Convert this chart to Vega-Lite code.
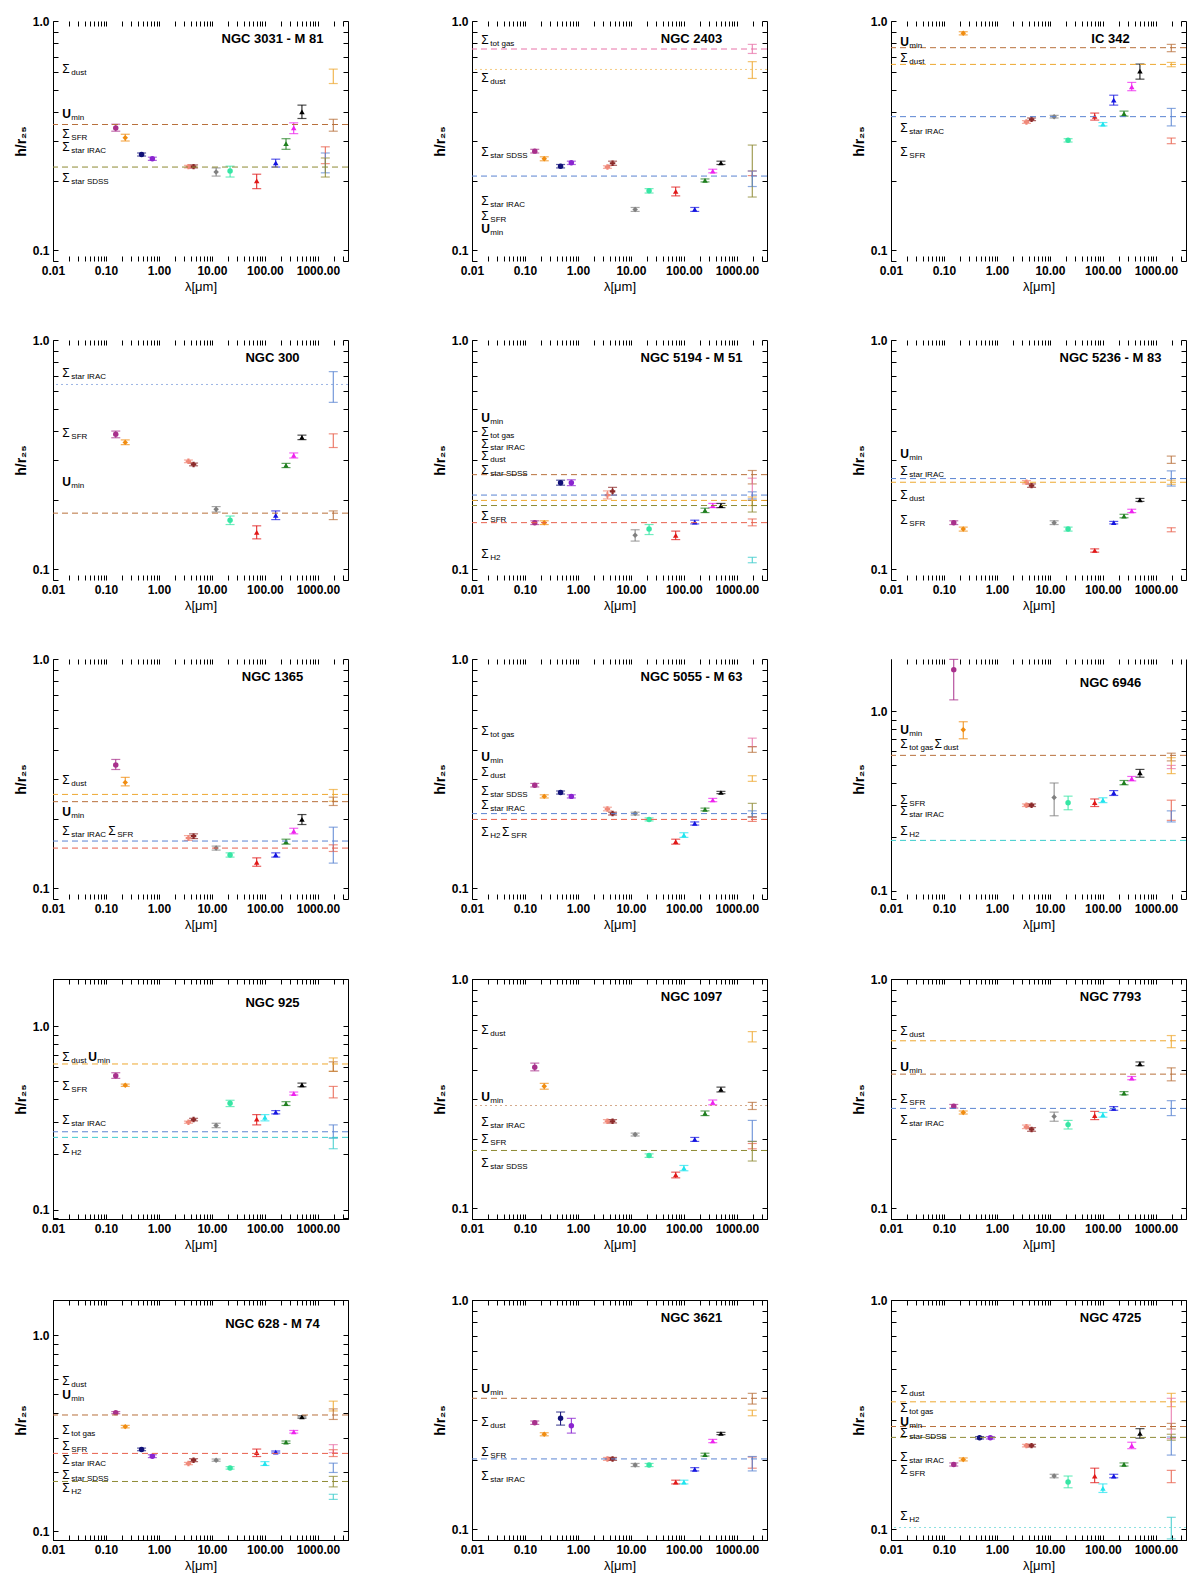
{
  "$schema": "https://vega.github.io/schema/vega-lite/v6.json",
  "background": "white",
  "padding": {"left": 13, "top": 15, "right": 5, "bottom": 5},
  "data": {"values": [
    {"g":"3031","t":"p","k":"FUV","x":0.153,"y":0.342,"lo":0.331,"hi":0.355},
    {"g":"3031","t":"p","k":"NUV","x":0.231,"y":0.31,"lo":0.3,"hi":0.321},
    {"g":"3031","t":"p","k":"g","x":0.47,"y":0.262,"lo":0.258,"hi":0.266},
    {"g":"3031","t":"p","k":"i","x":0.75,"y":0.251,"lo":0.247,"hi":0.255},
    {"g":"3031","t":"p","k":"I1","x":3.6,"y":0.232,"lo":0.229,"hi":0.235},
    {"g":"3031","t":"p","k":"I2","x":4.5,"y":0.232,"lo":0.229,"hi":0.236},
    {"g":"3031","t":"p","k":"W3","x":12,"y":0.22,"lo":0.211,"hi":0.229},
    {"g":"3031","t":"p","k":"W4","x":22,"y":0.222,"lo":0.209,"hi":0.233},
    {"g":"3031","t":"p","k":"P70","x":70,"y":0.201,"lo":0.186,"hi":0.215},
    {"g":"3031","t":"p","k":"P160","x":160,"y":0.241,"lo":0.231,"hi":0.25},
    {"g":"3031","t":"p","k":"S250","x":250,"y":0.292,"lo":0.276,"hi":0.307},
    {"g":"3031","t":"p","k":"S350","x":350,"y":0.342,"lo":0.323,"hi":0.36},
    {"g":"3031","t":"p","k":"S500","x":500,"y":0.402,"lo":0.376,"hi":0.43},
    {"g":"3031","t":"m","k":"dust","x":1950,"lo":0.534,"hi":0.617},
    {"g":"3031","t":"m","k":"Umin","x":1950,"lo":0.331,"hi":0.373},
    {"g":"3031","t":"m","k":"SFR","x":1380,"lo":0.239,"hi":0.283},
    {"g":"3031","t":"m","k":"IRAC","x":1380,"lo":0.218,"hi":0.266},
    {"g":"3031","t":"m","k":"SDSS","x":1380,"lo":0.209,"hi":0.253},
    {"g":"3031","t":"l","k":"Umin","y":0.354},
    {"g":"3031","t":"l","k":"SDSS","y":0.231},
    {"g":"3031","t":"t","x":0.015,"y":0.617,"s":"Σ","sub":"dust"},
    {"g":"3031","t":"t","x":0.015,"y":0.395,"s":"U","sub":"min"},
    {"g":"3031","t":"t","x":0.015,"y":0.323,"s":"Σ","sub":"SFR"},
    {"g":"3031","t":"t","x":0.015,"y":0.283,"s":"Σ","sub":"star IRAC"},
    {"g":"3031","t":"t","x":0.015,"y":0.206,"s":"Σ","sub":"star SDSS"},

    {"g":"2403","t":"p","k":"FUV","x":0.153,"y":0.271,"lo":0.266,"hi":0.276},
    {"g":"2403","t":"p","k":"NUV","x":0.231,"y":0.251,"lo":0.246,"hi":0.256},
    {"g":"2403","t":"p","k":"g","x":0.47,"y":0.233,"lo":0.229,"hi":0.237},
    {"g":"2403","t":"p","k":"i","x":0.75,"y":0.241,"lo":0.237,"hi":0.245},
    {"g":"2403","t":"p","k":"I1","x":3.6,"y":0.231,"lo":0.228,"hi":0.234},
    {"g":"2403","t":"p","k":"I2","x":4.5,"y":0.24,"lo":0.235,"hi":0.245},
    {"g":"2403","t":"p","k":"W3","x":12,"y":0.151,"lo":0.148,"hi":0.154},
    {"g":"2403","t":"p","k":"W4","x":22,"y":0.182,"lo":0.178,"hi":0.186},
    {"g":"2403","t":"p","k":"P70","x":70,"y":0.181,"lo":0.173,"hi":0.189},
    {"g":"2403","t":"p","k":"P160","x":160,"y":0.151,"lo":0.148,"hi":0.154},
    {"g":"2403","t":"p","k":"S250","x":250,"y":0.202,"lo":0.199,"hi":0.205},
    {"g":"2403","t":"p","k":"S350","x":350,"y":0.222,"lo":0.218,"hi":0.226},
    {"g":"2403","t":"p","k":"S500","x":500,"y":0.241,"lo":0.237,"hi":0.245},
    {"g":"2403","t":"m","k":"gas","x":1950,"lo":0.722,"hi":0.791},
    {"g":"2403","t":"m","k":"dust","x":1950,"lo":0.562,"hi":0.665},
    {"g":"2403","t":"m","k":"SDSS","x":1950,"lo":0.171,"hi":0.288},
    {"g":"2403","t":"m","k":"SFR","x":1950,"lo":0.212,"hi":0.222},
    {"g":"2403","t":"m","k":"IRAC","x":1950,"lo":0.19,"hi":0.222},
    {"g":"2403","t":"l","k":"gas","y":0.755},
    {"g":"2403","t":"f","k":"dust","y":0.615},
    {"g":"2403","t":"l","k":"IRAC","y":0.211},
    {"g":"2403","t":"t","x":0.015,"y":0.826,"s":"Σ","sub":"tot gas"},
    {"g":"2403","t":"t","x":0.015,"y":0.562,"s":"Σ","sub":"dust"},
    {"g":"2403","t":"t","x":0.015,"y":0.27,"s":"Σ","sub":"star SDSS"},
    {"g":"2403","t":"t","x":0.015,"y":0.164,"s":"Σ","sub":"star IRAC"},
    {"g":"2403","t":"t","x":0.015,"y":0.142,"s":"Σ","sub":"SFR"},
    {"g":"2403","t":"t","x":0.015,"y":0.124,"s":"U","sub":"min"},

    {"g":"342","t":"p","k":"NUV","x":0.231,"y":0.884,"lo":0.87,"hi":0.898},
    {"g":"342","t":"p","k":"I1","x":3.6,"y":0.363,"lo":0.358,"hi":0.368},
    {"g":"342","t":"p","k":"I2","x":4.5,"y":0.373,"lo":0.368,"hi":0.378},
    {"g":"342","t":"p","k":"W3","x":12,"y":0.383,"lo":0.378,"hi":0.388},
    {"g":"342","t":"p","k":"W4","x":22,"y":0.302,"lo":0.297,"hi":0.307},
    {"g":"342","t":"p","k":"P70","x":70,"y":0.384,"lo":0.37,"hi":0.397},
    {"g":"342","t":"p","k":"P100","x":100,"y":0.355,"lo":0.349,"hi":0.361},
    {"g":"342","t":"p","k":"P160","x":160,"y":0.452,"lo":0.43,"hi":0.475},
    {"g":"342","t":"p","k":"S250","x":250,"y":0.395,"lo":0.385,"hi":0.405},
    {"g":"342","t":"p","k":"S350","x":350,"y":0.517,"lo":0.497,"hi":0.54},
    {"g":"342","t":"p","k":"S500","x":500,"y":0.605,"lo":0.558,"hi":0.649},
    {"g":"342","t":"m","k":"Umin","x":1950,"lo":0.735,"hi":0.791},
    {"g":"342","t":"m","k":"dust","x":1950,"lo":0.632,"hi":0.66},
    {"g":"342","t":"m","k":"IRAC","x":1950,"lo":0.349,"hi":0.416},
    {"g":"342","t":"m","k":"SFR","x":1950,"lo":0.292,"hi":0.309},
    {"g":"342","t":"l","k":"Umin","y":0.765},
    {"g":"342","t":"l","k":"dust","y":0.647},
    {"g":"342","t":"l","k":"IRAC","y":0.383},
    {"g":"342","t":"t","x":0.015,"y":0.812,"s":"U","sub":"min"},
    {"g":"342","t":"t","x":0.015,"y":0.692,"s":"Σ","sub":"dust"},
    {"g":"342","t":"t","x":0.015,"y":0.342,"s":"Σ","sub":"star IRAC"},
    {"g":"342","t":"t","x":0.015,"y":0.269,"s":"Σ","sub":"SFR"},

    {"g":"300","t":"p","k":"FUV","x":0.153,"y":0.388,"lo":0.375,"hi":0.401},
    {"g":"300","t":"p","k":"NUV","x":0.231,"y":0.358,"lo":0.35,"hi":0.367},
    {"g":"300","t":"p","k":"I1","x":3.6,"y":0.296,"lo":0.292,"hi":0.3},
    {"g":"300","t":"p","k":"I2","x":4.5,"y":0.287,"lo":0.283,"hi":0.291},
    {"g":"300","t":"p","k":"W3","x":12,"y":0.183,"lo":0.178,"hi":0.188},
    {"g":"300","t":"p","k":"W4","x":22,"y":0.164,"lo":0.157,"hi":0.171},
    {"g":"300","t":"p","k":"P70","x":70,"y":0.145,"lo":0.136,"hi":0.155},
    {"g":"300","t":"p","k":"P160","x":160,"y":0.172,"lo":0.165,"hi":0.18},
    {"g":"300","t":"p","k":"S250","x":250,"y":0.284,"lo":0.278,"hi":0.29},
    {"g":"300","t":"p","k":"S350","x":350,"y":0.314,"lo":0.306,"hi":0.322},
    {"g":"300","t":"p","k":"S500","x":500,"y":0.376,"lo":0.368,"hi":0.385},
    {"g":"300","t":"m","k":"IRAC","x":1950,"lo":0.535,"hi":0.728},
    {"g":"300","t":"m","k":"SFR","x":1950,"lo":0.34,"hi":0.39},
    {"g":"300","t":"m","k":"Umin","x":1950,"lo":0.165,"hi":0.18},
    {"g":"300","t":"f","k":"IRAC","y":0.64},
    {"g":"300","t":"l","k":"Umin","y":0.176},
    {"g":"300","t":"t","x":0.015,"y":0.72,"s":"Σ","sub":"star IRAC"},
    {"g":"300","t":"t","x":0.015,"y":0.395,"s":"Σ","sub":"SFR"},
    {"g":"300","t":"t","x":0.015,"y":0.24,"s":"U","sub":"min"},

    {"g":"5194","t":"p","k":"FUV","x":0.153,"y":0.16,"lo":0.157,"hi":0.163},
    {"g":"5194","t":"p","k":"NUV","x":0.231,"y":0.16,"lo":0.157,"hi":0.163},
    {"g":"5194","t":"p","k":"g","x":0.47,"y":0.239,"lo":0.233,"hi":0.245},
    {"g":"5194","t":"p","k":"i","x":0.75,"y":0.239,"lo":0.232,"hi":0.246},
    {"g":"5194","t":"p","k":"I1","x":3.6,"y":0.211,"lo":0.203,"hi":0.22},
    {"g":"5194","t":"p","k":"I2","x":4.5,"y":0.219,"lo":0.211,"hi":0.228},
    {"g":"5194","t":"p","k":"W3","x":12,"y":0.141,"lo":0.133,"hi":0.149},
    {"g":"5194","t":"p","k":"W4","x":22,"y":0.15,"lo":0.142,"hi":0.157},
    {"g":"5194","t":"p","k":"P70","x":70,"y":0.141,"lo":0.135,"hi":0.147},
    {"g":"5194","t":"p","k":"P160","x":160,"y":0.161,"lo":0.158,"hi":0.164},
    {"g":"5194","t":"p","k":"S250","x":250,"y":0.181,"lo":0.177,"hi":0.185},
    {"g":"5194","t":"p","k":"S350","x":350,"y":0.19,"lo":0.186,"hi":0.194},
    {"g":"5194","t":"p","k":"S500","x":500,"y":0.19,"lo":0.186,"hi":0.194},
    {"g":"5194","t":"m","k":"Umin","x":1950,"lo":0.236,"hi":0.27},
    {"g":"5194","t":"m","k":"gas","x":1950,"lo":0.2,"hi":0.25},
    {"g":"5194","t":"m","k":"IRAC","x":1950,"lo":0.203,"hi":0.218},
    {"g":"5194","t":"m","k":"dust","x":1950,"lo":0.19,"hi":0.207},
    {"g":"5194","t":"m","k":"SDSS","x":1950,"lo":0.178,"hi":0.2},
    {"g":"5194","t":"m","k":"SFR","x":1950,"lo":0.155,"hi":0.166},
    {"g":"5194","t":"m","k":"H2","x":1950,"lo":0.107,"hi":0.113},
    {"g":"5194","t":"l","k":"Umin","y":0.259},
    {"g":"5194","t":"l","k":"IRAC","y":0.211},
    {"g":"5194","t":"l","k":"dust","y":0.2},
    {"g":"5194","t":"l","k":"SDSS","y":0.19},
    {"g":"5194","t":"l","k":"SFR","y":0.16},
    {"g":"5194","t":"t","x":0.015,"y":0.458,"s":"U","sub":"min"},
    {"g":"5194","t":"t","x":0.015,"y":0.397,"s":"Σ","sub":"tot gas"},
    {"g":"5194","t":"t","x":0.015,"y":0.351,"s":"Σ","sub":"star IRAC"},
    {"g":"5194","t":"t","x":0.015,"y":0.311,"s":"Σ","sub":"dust"},
    {"g":"5194","t":"t","x":0.015,"y":0.272,"s":"Σ","sub":"star SDSS"},
    {"g":"5194","t":"t","x":0.015,"y":0.171,"s":"Σ","sub":"SFR"},
    {"g":"5194","t":"t","x":0.015,"y":0.117,"s":"Σ","sub":"H2"},

    {"g":"5236","t":"p","k":"FUV","x":0.153,"y":0.16,"lo":0.157,"hi":0.163},
    {"g":"5236","t":"p","k":"NUV","x":0.231,"y":0.15,"lo":0.147,"hi":0.153},
    {"g":"5236","t":"p","k":"I1","x":3.6,"y":0.24,"lo":0.236,"hi":0.244},
    {"g":"5236","t":"p","k":"I2","x":4.5,"y":0.232,"lo":0.228,"hi":0.236},
    {"g":"5236","t":"p","k":"W3","x":12,"y":0.16,"lo":0.157,"hi":0.163},
    {"g":"5236","t":"p","k":"W4","x":22,"y":0.15,"lo":0.147,"hi":0.153},
    {"g":"5236","t":"p","k":"P70","x":70,"y":0.121,"lo":0.119,"hi":0.123},
    {"g":"5236","t":"p","k":"P160","x":160,"y":0.16,"lo":0.158,"hi":0.162},
    {"g":"5236","t":"p","k":"S250","x":250,"y":0.171,"lo":0.168,"hi":0.174},
    {"g":"5236","t":"p","k":"S350","x":350,"y":0.18,"lo":0.177,"hi":0.183},
    {"g":"5236","t":"p","k":"S500","x":500,"y":0.201,"lo":0.198,"hi":0.204},
    {"g":"5236","t":"m","k":"Umin","x":1950,"lo":0.29,"hi":0.312},
    {"g":"5236","t":"m","k":"IRAC","x":1950,"lo":0.231,"hi":0.269},
    {"g":"5236","t":"m","k":"dust","x":1950,"lo":0.235,"hi":0.245},
    {"g":"5236","t":"m","k":"SFR","x":1950,"lo":0.146,"hi":0.152},
    {"g":"5236","t":"l","k":"IRAC","y":0.249},
    {"g":"5236","t":"l","k":"dust","y":0.24},
    {"g":"5236","t":"t","x":0.015,"y":0.318,"s":"U","sub":"min"},
    {"g":"5236","t":"t","x":0.015,"y":0.269,"s":"Σ","sub":"star IRAC"},
    {"g":"5236","t":"t","x":0.015,"y":0.212,"s":"Σ","sub":"dust"},
    {"g":"5236","t":"t","x":0.015,"y":0.164,"s":"Σ","sub":"SFR"},

    {"g":"1365","t":"p","k":"FUV","x":0.153,"y":0.345,"lo":0.33,"hi":0.365},
    {"g":"1365","t":"p","k":"NUV","x":0.231,"y":0.29,"lo":0.28,"hi":0.305},
    {"g":"1365","t":"p","k":"I1","x":3.6,"y":0.166,"lo":0.162,"hi":0.17},
    {"g":"1365","t":"p","k":"I2","x":4.5,"y":0.169,"lo":0.165,"hi":0.173},
    {"g":"1365","t":"p","k":"W3","x":12,"y":0.15,"lo":0.147,"hi":0.153},
    {"g":"1365","t":"p","k":"W4","x":22,"y":0.14,"lo":0.137,"hi":0.143},
    {"g":"1365","t":"p","k":"P70","x":70,"y":0.13,"lo":0.125,"hi":0.136},
    {"g":"1365","t":"p","k":"P160","x":160,"y":0.14,"lo":0.137,"hi":0.143},
    {"g":"1365","t":"p","k":"S250","x":250,"y":0.16,"lo":0.156,"hi":0.164},
    {"g":"1365","t":"p","k":"S350","x":350,"y":0.178,"lo":0.173,"hi":0.183},
    {"g":"1365","t":"p","k":"S500","x":500,"y":0.2,"lo":0.19,"hi":0.21},
    {"g":"1365","t":"m","k":"dust","x":1950,"lo":0.24,"hi":0.27},
    {"g":"1365","t":"m","k":"Umin","x":1950,"lo":0.23,"hi":0.25},
    {"g":"1365","t":"m","k":"IRAC","x":1950,"lo":0.129,"hi":0.185},
    {"g":"1365","t":"m","k":"SFR","x":1950,"lo":0.145,"hi":0.155},
    {"g":"1365","t":"l","k":"dust","y":0.257},
    {"g":"1365","t":"l","k":"Umin","y":0.239},
    {"g":"1365","t":"l","k":"IRAC","y":0.161},
    {"g":"1365","t":"l","k":"SFR","y":0.15},
    {"g":"1365","t":"t","x":0.015,"y":0.296,"s":"Σ","sub":"dust"},
    {"g":"1365","t":"t","x":0.015,"y":0.216,"s":"U","sub":"min"},
    {"g":"1365","t":"t","x":0.015,"y":0.178,"s":"Σ","sub":"star IRAC"},
    {"g":"1365","t":"t","x":0.11,"y":0.178,"s":"Σ","sub":"SFR"},

    {"g":"5055","t":"p","k":"FUV","x":0.153,"y":0.282,"lo":0.277,"hi":0.287},
    {"g":"5055","t":"p","k":"NUV","x":0.231,"y":0.252,"lo":0.248,"hi":0.256},
    {"g":"5055","t":"p","k":"g","x":0.47,"y":0.262,"lo":0.258,"hi":0.266},
    {"g":"5055","t":"p","k":"i","x":0.75,"y":0.252,"lo":0.248,"hi":0.256},
    {"g":"5055","t":"p","k":"I1","x":3.6,"y":0.222,"lo":0.218,"hi":0.226},
    {"g":"5055","t":"p","k":"I2","x":4.5,"y":0.212,"lo":0.209,"hi":0.215},
    {"g":"5055","t":"p","k":"W3","x":12,"y":0.212,"lo":0.209,"hi":0.215},
    {"g":"5055","t":"p","k":"W4","x":22,"y":0.2,"lo":0.197,"hi":0.203},
    {"g":"5055","t":"p","k":"P70","x":70,"y":0.16,"lo":0.156,"hi":0.164},
    {"g":"5055","t":"p","k":"P100","x":100,"y":0.171,"lo":0.167,"hi":0.175},
    {"g":"5055","t":"p","k":"P160","x":160,"y":0.192,"lo":0.189,"hi":0.195},
    {"g":"5055","t":"p","k":"S250","x":250,"y":0.221,"lo":0.218,"hi":0.224},
    {"g":"5055","t":"p","k":"S350","x":350,"y":0.243,"lo":0.239,"hi":0.247},
    {"g":"5055","t":"p","k":"S500","x":500,"y":0.262,"lo":0.259,"hi":0.265},
    {"g":"5055","t":"m","k":"gas","x":1950,"lo":0.415,"hi":0.452},
    {"g":"5055","t":"m","k":"Umin","x":1950,"lo":0.392,"hi":0.415},
    {"g":"5055","t":"m","k":"dust","x":1950,"lo":0.293,"hi":0.31},
    {"g":"5055","t":"m","k":"SDSS","x":1950,"lo":0.205,"hi":0.235},
    {"g":"5055","t":"m","k":"IRAC","x":1950,"lo":0.205,"hi":0.218},
    {"g":"5055","t":"m","k":"SFR","x":1950,"lo":0.196,"hi":0.205},
    {"g":"5055","t":"l","k":"IRAC","y":0.212},
    {"g":"5055","t":"l","k":"SFR","y":0.2},
    {"g":"5055","t":"t","x":0.015,"y":0.487,"s":"Σ","sub":"tot gas"},
    {"g":"5055","t":"t","x":0.015,"y":0.373,"s":"U","sub":"min"},
    {"g":"5055","t":"t","x":0.015,"y":0.323,"s":"Σ","sub":"dust"},
    {"g":"5055","t":"t","x":0.015,"y":0.265,"s":"Σ","sub":"star SDSS"},
    {"g":"5055","t":"t","x":0.015,"y":0.232,"s":"Σ","sub":"star IRAC"},
    {"g":"5055","t":"t","x":0.015,"y":0.177,"s":"Σ","sub":"H2"},
    {"g":"5055","t":"t","x":0.037,"y":0.177,"s":"Σ","sub":"SFR"},

    {"g":"6946","t":"p","k":"FUV","x":0.153,"y":1.71,"lo":1.16,"hi":1.95},
    {"g":"6946","t":"p","k":"NUV","x":0.231,"y":0.79,"lo":0.704,"hi":0.876},
    {"g":"6946","t":"p","k":"I1","x":3.6,"y":0.3,"lo":0.295,"hi":0.305},
    {"g":"6946","t":"p","k":"I2","x":4.5,"y":0.3,"lo":0.295,"hi":0.305},
    {"g":"6946","t":"p","k":"W3","x":12,"y":0.331,"lo":0.262,"hi":0.399},
    {"g":"6946","t":"p","k":"W4","x":22,"y":0.31,"lo":0.283,"hi":0.337},
    {"g":"6946","t":"p","k":"P70","x":70,"y":0.31,"lo":0.295,"hi":0.325},
    {"g":"6946","t":"p","k":"P100","x":100,"y":0.32,"lo":0.31,"hi":0.33},
    {"g":"6946","t":"p","k":"P160","x":160,"y":0.351,"lo":0.34,"hi":0.362},
    {"g":"6946","t":"p","k":"S250","x":250,"y":0.401,"lo":0.39,"hi":0.412},
    {"g":"6946","t":"p","k":"S350","x":350,"y":0.422,"lo":0.41,"hi":0.434},
    {"g":"6946","t":"p","k":"S500","x":500,"y":0.454,"lo":0.43,"hi":0.475},
    {"g":"6946","t":"m","k":"Umin","x":1950,"lo":0.53,"hi":0.585},
    {"g":"6946","t":"m","k":"dust","x":1950,"lo":0.45,"hi":0.552},
    {"g":"6946","t":"m","k":"gas","x":1950,"lo":0.48,"hi":0.5},
    {"g":"6946","t":"m","k":"SFR","x":1950,"lo":0.247,"hi":0.32},
    {"g":"6946","t":"m","k":"IRAC","x":1950,"lo":0.242,"hi":0.279},
    {"g":"6946","t":"l","k":"Umin","y":0.569},
    {"g":"6946","t":"l","k":"H2","y":0.191},
    {"g":"6946","t":"t","x":0.015,"y":0.79,"s":"U","sub":"min"},
    {"g":"6946","t":"t","x":0.015,"y":0.655,"s":"Σ","sub":"tot gas"},
    {"g":"6946","t":"t","x":0.066,"y":0.655,"s":"Σ","sub":"dust"},
    {"g":"6946","t":"t","x":0.015,"y":0.322,"s":"Σ","sub":"SFR"},
    {"g":"6946","t":"t","x":0.015,"y":0.279,"s":"Σ","sub":"star IRAC"},
    {"g":"6946","t":"t","x":0.015,"y":0.216,"s":"Σ","sub":"H2"},

    {"g":"925","t":"p","k":"FUV","x":0.153,"y":0.538,"lo":0.52,"hi":0.558},
    {"g":"925","t":"p","k":"NUV","x":0.231,"y":0.477,"lo":0.47,"hi":0.484},
    {"g":"925","t":"p","k":"I1","x":3.6,"y":0.3,"lo":0.296,"hi":0.304},
    {"g":"925","t":"p","k":"I2","x":4.5,"y":0.31,"lo":0.305,"hi":0.315},
    {"g":"925","t":"p","k":"W3","x":12,"y":0.288,"lo":0.28,"hi":0.296},
    {"g":"925","t":"p","k":"W4","x":22,"y":0.38,"lo":0.365,"hi":0.395},
    {"g":"925","t":"p","k":"P70","x":70,"y":0.312,"lo":0.29,"hi":0.33},
    {"g":"925","t":"p","k":"P100","x":100,"y":0.319,"lo":0.305,"hi":0.33},
    {"g":"925","t":"p","k":"P160","x":160,"y":0.34,"lo":0.333,"hi":0.347},
    {"g":"925","t":"p","k":"S250","x":250,"y":0.379,"lo":0.37,"hi":0.388},
    {"g":"925","t":"p","k":"S350","x":350,"y":0.43,"lo":0.422,"hi":0.438},
    {"g":"925","t":"p","k":"S500","x":500,"y":0.479,"lo":0.468,"hi":0.49},
    {"g":"925","t":"m","k":"dust","x":1950,"lo":0.568,"hi":0.672},
    {"g":"925","t":"m","k":"Umin","x":1950,"lo":0.568,"hi":0.64},
    {"g":"925","t":"m","k":"SFR","x":1950,"lo":0.407,"hi":0.47},
    {"g":"925","t":"m","k":"IRAC","x":1950,"lo":0.246,"hi":0.29},
    {"g":"925","t":"m","k":"H2","x":1950,"lo":0.215,"hi":0.246},
    {"g":"925","t":"l","k":"dust","y":0.623},
    {"g":"925","t":"l","k":"IRAC","y":0.266},
    {"g":"925","t":"l","k":"H2","y":0.248},
    {"g":"925","t":"t","x":0.015,"y":0.68,"s":"Σ","sub":"dust"},
    {"g":"925","t":"t","x":0.0465,"y":0.68,"s":"U","sub":"min"},
    {"g":"925","t":"t","x":0.015,"y":0.474,"s":"Σ","sub":"SFR"},
    {"g":"925","t":"t","x":0.015,"y":0.307,"s":"Σ","sub":"star IRAC"},
    {"g":"925","t":"t","x":0.015,"y":0.215,"s":"Σ","sub":"H2"},

    {"g":"1097","t":"p","k":"FUV","x":0.153,"y":0.413,"lo":0.398,"hi":0.43},
    {"g":"1097","t":"p","k":"NUV","x":0.231,"y":0.341,"lo":0.331,"hi":0.351},
    {"g":"1097","t":"p","k":"I1","x":3.6,"y":0.24,"lo":0.236,"hi":0.244},
    {"g":"1097","t":"p","k":"I2","x":4.5,"y":0.24,"lo":0.236,"hi":0.244},
    {"g":"1097","t":"p","k":"W3","x":12,"y":0.21,"lo":0.207,"hi":0.213},
    {"g":"1097","t":"p","k":"W4","x":22,"y":0.17,"lo":0.167,"hi":0.173},
    {"g":"1097","t":"p","k":"P70","x":70,"y":0.14,"lo":0.136,"hi":0.144},
    {"g":"1097","t":"p","k":"P100","x":100,"y":0.15,"lo":0.146,"hi":0.154},
    {"g":"1097","t":"p","k":"P160","x":160,"y":0.2,"lo":0.196,"hi":0.204},
    {"g":"1097","t":"p","k":"S250","x":250,"y":0.26,"lo":0.254,"hi":0.266},
    {"g":"1097","t":"p","k":"S350","x":350,"y":0.29,"lo":0.283,"hi":0.297},
    {"g":"1097","t":"p","k":"S500","x":500,"y":0.33,"lo":0.322,"hi":0.338},
    {"g":"1097","t":"m","k":"dust","x":1950,"lo":0.532,"hi":0.59},
    {"g":"1097","t":"m","k":"Umin","x":1950,"lo":0.27,"hi":0.29},
    {"g":"1097","t":"m","k":"IRAC","x":1950,"lo":0.196,"hi":0.242},
    {"g":"1097","t":"m","k":"SFR","x":1950,"lo":0.182,"hi":0.192},
    {"g":"1097","t":"m","k":"SDSS","x":1950,"lo":0.161,"hi":0.196},
    {"g":"1097","t":"f","k":"Umin","y":0.281},
    {"g":"1097","t":"l","k":"SDSS","y":0.179},
    {"g":"1097","t":"t","x":0.015,"y":0.6,"s":"Σ","sub":"dust"},
    {"g":"1097","t":"t","x":0.015,"y":0.306,"s":"U","sub":"min"},
    {"g":"1097","t":"t","x":0.015,"y":0.237,"s":"Σ","sub":"star IRAC"},
    {"g":"1097","t":"t","x":0.015,"y":0.2,"s":"Σ","sub":"SFR"},
    {"g":"1097","t":"t","x":0.015,"y":0.158,"s":"Σ","sub":"star SDSS"},

    {"g":"7793","t":"p","k":"FUV","x":0.153,"y":0.279,"lo":0.274,"hi":0.284},
    {"g":"7793","t":"p","k":"NUV","x":0.231,"y":0.262,"lo":0.258,"hi":0.266},
    {"g":"7793","t":"p","k":"I1","x":3.6,"y":0.227,"lo":0.223,"hi":0.231},
    {"g":"7793","t":"p","k":"I2","x":4.5,"y":0.221,"lo":0.217,"hi":0.225},
    {"g":"7793","t":"p","k":"W3","x":12,"y":0.252,"lo":0.24,"hi":0.263},
    {"g":"7793","t":"p","k":"W4","x":22,"y":0.232,"lo":0.222,"hi":0.242},
    {"g":"7793","t":"p","k":"P70","x":70,"y":0.254,"lo":0.244,"hi":0.265},
    {"g":"7793","t":"p","k":"P100","x":100,"y":0.256,"lo":0.25,"hi":0.262},
    {"g":"7793","t":"p","k":"P160","x":160,"y":0.273,"lo":0.268,"hi":0.278},
    {"g":"7793","t":"p","k":"S250","x":250,"y":0.318,"lo":0.313,"hi":0.323},
    {"g":"7793","t":"p","k":"S350","x":350,"y":0.37,"lo":0.364,"hi":0.376},
    {"g":"7793","t":"p","k":"S500","x":500,"y":0.427,"lo":0.419,"hi":0.435},
    {"g":"7793","t":"m","k":"dust","x":1950,"lo":0.502,"hi":0.567},
    {"g":"7793","t":"m","k":"Umin","x":1950,"lo":0.36,"hi":0.41},
    {"g":"7793","t":"m","k":"IRAC","x":1950,"lo":0.254,"hi":0.295},
    {"g":"7793","t":"l","k":"dust","y":0.538},
    {"g":"7793","t":"l","k":"Umin","y":0.385},
    {"g":"7793","t":"l","k":"IRAC","y":0.273},
    {"g":"7793","t":"t","x":0.015,"y":0.596,"s":"Σ","sub":"dust"},
    {"g":"7793","t":"t","x":0.015,"y":0.414,"s":"U","sub":"min"},
    {"g":"7793","t":"t","x":0.015,"y":0.299,"s":"Σ","sub":"SFR"},
    {"g":"7793","t":"t","x":0.015,"y":0.244,"s":"Σ","sub":"star IRAC"},

    {"g":"628","t":"p","k":"FUV","x":0.153,"y":0.402,"lo":0.397,"hi":0.407},
    {"g":"628","t":"p","k":"NUV","x":0.231,"y":0.341,"lo":0.336,"hi":0.346},
    {"g":"628","t":"p","k":"g","x":0.47,"y":0.261,"lo":0.257,"hi":0.265},
    {"g":"628","t":"p","k":"i","x":0.75,"y":0.241,"lo":0.237,"hi":0.245},
    {"g":"628","t":"p","k":"I1","x":3.6,"y":0.221,"lo":0.218,"hi":0.224},
    {"g":"628","t":"p","k":"I2","x":4.5,"y":0.23,"lo":0.226,"hi":0.234},
    {"g":"628","t":"p","k":"W3","x":12,"y":0.23,"lo":0.227,"hi":0.233},
    {"g":"628","t":"p","k":"W4","x":22,"y":0.21,"lo":0.207,"hi":0.213},
    {"g":"628","t":"p","k":"P70","x":70,"y":0.251,"lo":0.24,"hi":0.262},
    {"g":"628","t":"p","k":"P100","x":100,"y":0.221,"lo":0.216,"hi":0.226},
    {"g":"628","t":"p","k":"P160","x":160,"y":0.253,"lo":0.25,"hi":0.256},
    {"g":"628","t":"p","k":"S250","x":250,"y":0.284,"lo":0.28,"hi":0.288},
    {"g":"628","t":"p","k":"S350","x":350,"y":0.321,"lo":0.316,"hi":0.326},
    {"g":"628","t":"p","k":"S500","x":500,"y":0.382,"lo":0.377,"hi":0.387},
    {"g":"628","t":"m","k":"dust","x":1950,"lo":0.41,"hi":0.46},
    {"g":"628","t":"m","k":"Umin","x":1950,"lo":0.371,"hi":0.42},
    {"g":"628","t":"m","k":"gas","x":1950,"lo":0.251,"hi":0.276},
    {"g":"628","t":"m","k":"SFR","x":1950,"lo":0.24,"hi":0.26},
    {"g":"628","t":"m","k":"IRAC","x":1950,"lo":0.199,"hi":0.222},
    {"g":"628","t":"m","k":"SDSS","x":1950,"lo":0.168,"hi":0.19},
    {"g":"628","t":"m","k":"H2","x":1950,"lo":0.145,"hi":0.154},
    {"g":"628","t":"l","k":"Umin","y":0.391},
    {"g":"628","t":"l","k":"SFR","y":0.249},
    {"g":"628","t":"l","k":"SDSS","y":0.179},
    {"g":"628","t":"t","x":0.015,"y":0.582,"s":"Σ","sub":"dust"},
    {"g":"628","t":"t","x":0.015,"y":0.492,"s":"U","sub":"min"},
    {"g":"628","t":"t","x":0.015,"y":0.327,"s":"Σ","sub":"tot gas"},
    {"g":"628","t":"t","x":0.015,"y":0.273,"s":"Σ","sub":"SFR"},
    {"g":"628","t":"t","x":0.015,"y":0.23,"s":"Σ","sub":"star IRAC"},
    {"g":"628","t":"t","x":0.015,"y":0.193,"s":"Σ","sub":"star SDSS"},
    {"g":"628","t":"t","x":0.015,"y":0.166,"s":"Σ","sub":"H2"},

    {"g":"3621","t":"p","k":"FUV","x":0.153,"y":0.292,"lo":0.287,"hi":0.297},
    {"g":"3621","t":"p","k":"NUV","x":0.231,"y":0.26,"lo":0.256,"hi":0.264},
    {"g":"3621","t":"p","k":"g","x":0.47,"y":0.305,"lo":0.285,"hi":0.325},
    {"g":"3621","t":"p","k":"i","x":0.75,"y":0.283,"lo":0.263,"hi":0.305},
    {"g":"3621","t":"p","k":"I1","x":3.6,"y":0.203,"lo":0.2,"hi":0.206},
    {"g":"3621","t":"p","k":"I2","x":4.5,"y":0.203,"lo":0.2,"hi":0.206},
    {"g":"3621","t":"p","k":"W3","x":12,"y":0.191,"lo":0.188,"hi":0.194},
    {"g":"3621","t":"p","k":"W4","x":22,"y":0.191,"lo":0.188,"hi":0.194},
    {"g":"3621","t":"p","k":"P70","x":70,"y":0.161,"lo":0.158,"hi":0.164},
    {"g":"3621","t":"p","k":"P100","x":100,"y":0.161,"lo":0.158,"hi":0.164},
    {"g":"3621","t":"p","k":"P160","x":160,"y":0.183,"lo":0.18,"hi":0.186},
    {"g":"3621","t":"p","k":"S250","x":250,"y":0.212,"lo":0.209,"hi":0.215},
    {"g":"3621","t":"p","k":"S350","x":350,"y":0.243,"lo":0.239,"hi":0.247},
    {"g":"3621","t":"p","k":"S500","x":500,"y":0.262,"lo":0.259,"hi":0.265},
    {"g":"3621","t":"m","k":"Umin","x":1950,"lo":0.352,"hi":0.392},
    {"g":"3621","t":"m","k":"dust","x":1950,"lo":0.313,"hi":0.331},
    {"g":"3621","t":"m","k":"SFR","x":1950,"lo":0.185,"hi":0.207},
    {"g":"3621","t":"m","k":"IRAC","x":1950,"lo":0.18,"hi":0.208},
    {"g":"3621","t":"l","k":"Umin","y":0.373},
    {"g":"3621","t":"l","k":"IRAC","y":0.203},
    {"g":"3621","t":"t","x":0.015,"y":0.409,"s":"U","sub":"min"},
    {"g":"3621","t":"t","x":0.015,"y":0.295,"s":"Σ","sub":"dust"},
    {"g":"3621","t":"t","x":0.015,"y":0.218,"s":"Σ","sub":"SFR"},
    {"g":"3621","t":"t","x":0.015,"y":0.171,"s":"Σ","sub":"star IRAC"},

    {"g":"4725","t":"p","k":"FUV","x":0.153,"y":0.192,"lo":0.189,"hi":0.195},
    {"g":"4725","t":"p","k":"NUV","x":0.231,"y":0.202,"lo":0.199,"hi":0.205},
    {"g":"4725","t":"p","k":"g","x":0.47,"y":0.251,"lo":0.248,"hi":0.254},
    {"g":"4725","t":"p","k":"i","x":0.75,"y":0.251,"lo":0.248,"hi":0.254},
    {"g":"4725","t":"p","k":"I1","x":3.6,"y":0.232,"lo":0.229,"hi":0.235},
    {"g":"4725","t":"p","k":"I2","x":4.5,"y":0.232,"lo":0.229,"hi":0.235},
    {"g":"4725","t":"p","k":"W3","x":12,"y":0.171,"lo":0.168,"hi":0.174},
    {"g":"4725","t":"p","k":"W4","x":22,"y":0.161,"lo":0.152,"hi":0.171},
    {"g":"4725","t":"p","k":"P70","x":70,"y":0.171,"lo":0.16,"hi":0.185},
    {"g":"4725","t":"p","k":"P100","x":100,"y":0.151,"lo":0.145,"hi":0.158},
    {"g":"4725","t":"p","k":"P160","x":160,"y":0.171,"lo":0.168,"hi":0.174},
    {"g":"4725","t":"p","k":"S250","x":250,"y":0.192,"lo":0.189,"hi":0.195},
    {"g":"4725","t":"p","k":"S350","x":350,"y":0.232,"lo":0.225,"hi":0.24},
    {"g":"4725","t":"p","k":"S500","x":500,"y":0.262,"lo":0.25,"hi":0.275},
    {"g":"4725","t":"m","k":"dust","x":1950,"lo":0.343,"hi":0.392},
    {"g":"4725","t":"m","k":"gas","x":1950,"lo":0.249,"hi":0.373},
    {"g":"4725","t":"m","k":"Umin","x":1950,"lo":0.274,"hi":0.29},
    {"g":"4725","t":"m","k":"IRAC","x":1950,"lo":0.211,"hi":0.253},
    {"g":"4725","t":"m","k":"SDSS","x":1950,"lo":0.245,"hi":0.26},
    {"g":"4725","t":"m","k":"SFR","x":1950,"lo":0.16,"hi":0.181},
    {"g":"4725","t":"m","k":"H2","x":1950,"lo":0.091,"hi":0.113},
    {"g":"4725","t":"l","k":"dust","y":0.36},
    {"g":"4725","t":"l","k":"Umin","y":0.281},
    {"g":"4725","t":"l","k":"SDSS","y":0.252},
    {"g":"4725","t":"f","k":"H2","y":0.102},
    {"g":"4725","t":"t","x":0.015,"y":0.405,"s":"Σ","sub":"dust"},
    {"g":"4725","t":"t","x":0.015,"y":0.337,"s":"Σ","sub":"tot gas"},
    {"g":"4725","t":"t","x":0.015,"y":0.295,"s":"U","sub":"min"},
    {"g":"4725","t":"t","x":0.015,"y":0.262,"s":"Σ","sub":"star SDSS"},
    {"g":"4725","t":"t","x":0.015,"y":0.207,"s":"Σ","sub":"star IRAC"},
    {"g":"4725","t":"t","x":0.015,"y":0.181,"s":"Σ","sub":"SFR"},
    {"g":"4725","t":"t","x":0.015,"y":0.114,"s":"Σ","sub":"H2"}
  ]},
  "columns": 3,
  "spacing": {"row": 41, "column": 83},
  "concat": [
    {"title": "NGC 3031 - M 81", "width": 295, "height": 240,
     "transform": [{"filter": "datum.g=='3031'"}],
     "resolve": {"axis": {"x": "independent", "y": "independent"}},
     "layer": [
      {"transform": [{"filter": "datum.lo>0"}], "mark": "errorbar",
       "encoding": {
        "x": {"field": "x", "type": "quantitative", "scale": {"type": "log", "domain": [0.01, 3700], "nice": false}, "axis": {"orient": "top", "title": null}},
        "y": {"field": "lo", "type": "quantitative", "scale": {"type": "log", "domain": [0.09, 1], "nice": false}, "axis": {"orient": "right", "title": null}},
        "y2": {"field": "hi"},
        "color": {"field": "k", "type": "nominal", "legend": null,
          "scale": {"domain": ["FUV","NUV","g","i","I1","I2","W3","W4","P70","P100","P160","S250","S350","S500","dust","Umin","SFR","IRAC","SDSS","gas","H2"],
                    "range": ["#a8308c","#f08c10","#101078","#8a24d0","#f08878","#8b2a2a","#808080","#36e6a4","#e01818","#20e4ee","#1414e0","#1e7e1e","#ee22ee","#000000","#eea830","#b8703c","#e8604c","#5a84d2","#8e8a34","#e872a8","#3ccccc"]}}}},
      {"transform": [{"filter": "datum.t=='p'"}], "mark": "point",
       "encoding": {
        "x": {"field": "x", "type": "quantitative", "axis": {"title": "λ[μm]"}},
        "y": {"field": "y", "type": "quantitative", "axis": {"title": "h/r₂₅"}},
        "color": {"field": "k", "type": "nominal", "legend": null},
        "shape": {"field": "k", "type": "nominal", "legend": null,
          "scale": {"domain": ["FUV","NUV","g","i","I1","I2","W3","W4","P70","P100","P160","S250","S350","S500"],
                    "range": ["circle","diamond","circle","circle","cross","cross","diamond","circle","triangle-up","triangle-up","triangle-up","triangle-up","triangle-up","triangle-up"]}}}},
      {"transform": [{"filter": "datum.t=='l'"}], "mark": {"type": "rule", "strokeDash": [6, 4]},
       "encoding": {"y": {"field": "y", "type": "quantitative", "axis": null}, "color": {"field": "k", "type": "nominal", "legend": null}}},
      {"transform": [{"filter": "datum.t=='t'"}], "mark": {"type": "text", "fontSize": 12, "fontWeight": {"expr": "datum.s=='U'?'bold':'normal'"}},
       "encoding": {"x": {"field": "x", "type": "quantitative", "axis": null}, "y": {"field": "y", "type": "quantitative", "axis": null}, "text": {"field": "s"}}},
      {"transform": [{"filter": "datum.t=='t'"}], "mark": {"type": "text", "fontSize": 8, "dx": 9, "dy": 4},
       "encoding": {"x": {"field": "x", "type": "quantitative", "axis": null}, "y": {"field": "y", "type": "quantitative", "axis": null}, "text": {"field": "sub"}}}
     ]},
    {"title": "NGC 2403", "width": 295, "height": 240,
     "transform": [{"filter": "datum.g=='2403'"}],
     "resolve": {"axis": {"x": "independent", "y": "independent"}},
     "layer": [
      {"transform": [{"filter": "datum.lo>0"}], "mark": "errorbar",
       "encoding": {
        "x": {"field": "x", "type": "quantitative", "scale": {"type": "log", "domain": [0.01, 3700], "nice": false}, "axis": {"orient": "top", "title": null}},
        "y": {"field": "lo", "type": "quantitative", "scale": {"type": "log", "domain": [0.09, 1], "nice": false}, "axis": {"orient": "right", "title": null}},
        "y2": {"field": "hi"}, "color": {"field": "k", "type": "nominal", "legend": null}}},
      {"transform": [{"filter": "datum.t=='p'"}], "mark": "point",
       "encoding": {"x": {"field": "x", "type": "quantitative", "axis": {"title": "λ[μm]"}}, "y": {"field": "y", "type": "quantitative", "axis": {"title": "h/r₂₅"}},
        "color": {"field": "k", "type": "nominal", "legend": null}, "shape": {"field": "k", "type": "nominal", "legend": null}}},
      {"transform": [{"filter": "datum.t=='l'"}], "mark": {"type": "rule", "strokeDash": [6, 4]},
       "encoding": {"y": {"field": "y", "type": "quantitative", "axis": null}, "color": {"field": "k", "type": "nominal", "legend": null}}},
      {"transform": [{"filter": "datum.t=='f'"}], "mark": {"type": "rule", "strokeDash": [2, 3], "opacity": 0.6},
       "encoding": {"y": {"field": "y", "type": "quantitative", "axis": null}, "color": {"field": "k", "type": "nominal", "legend": null}}},
      {"transform": [{"filter": "datum.t=='t'"}], "mark": {"type": "text", "fontSize": 12, "fontWeight": {"expr": "datum.s=='U'?'bold':'normal'"}},
       "encoding": {"x": {"field": "x", "type": "quantitative", "axis": null}, "y": {"field": "y", "type": "quantitative", "axis": null}, "text": {"field": "s"}}},
      {"transform": [{"filter": "datum.t=='t'"}], "mark": {"type": "text", "fontSize": 8, "dx": 9, "dy": 4},
       "encoding": {"x": {"field": "x", "type": "quantitative", "axis": null}, "y": {"field": "y", "type": "quantitative", "axis": null}, "text": {"field": "sub"}}}
     ]},
    {"title": "IC 342", "width": 295, "height": 240,
     "transform": [{"filter": "datum.g=='342'"}],
     "resolve": {"axis": {"x": "independent", "y": "independent"}},
     "layer": [
      {"transform": [{"filter": "datum.lo>0"}], "mark": "errorbar",
       "encoding": {
        "x": {"field": "x", "type": "quantitative", "scale": {"type": "log", "domain": [0.01, 3700], "nice": false}, "axis": {"orient": "top", "title": null}},
        "y": {"field": "lo", "type": "quantitative", "scale": {"type": "log", "domain": [0.09, 1], "nice": false}, "axis": {"orient": "right", "title": null}},
        "y2": {"field": "hi"}, "color": {"field": "k", "type": "nominal", "legend": null}}},
      {"transform": [{"filter": "datum.t=='p'"}], "mark": "point",
       "encoding": {"x": {"field": "x", "type": "quantitative", "axis": {"title": "λ[μm]"}}, "y": {"field": "y", "type": "quantitative", "axis": {"title": "h/r₂₅"}},
        "color": {"field": "k", "type": "nominal", "legend": null}, "shape": {"field": "k", "type": "nominal", "legend": null}}},
      {"transform": [{"filter": "datum.t=='l'"}], "mark": {"type": "rule", "strokeDash": [6, 4]},
       "encoding": {"y": {"field": "y", "type": "quantitative", "axis": null}, "color": {"field": "k", "type": "nominal", "legend": null}}},
      {"transform": [{"filter": "datum.t=='t'"}], "mark": {"type": "text", "fontSize": 12, "fontWeight": {"expr": "datum.s=='U'?'bold':'normal'"}},
       "encoding": {"x": {"field": "x", "type": "quantitative", "axis": null}, "y": {"field": "y", "type": "quantitative", "axis": null}, "text": {"field": "s"}}},
      {"transform": [{"filter": "datum.t=='t'"}], "mark": {"type": "text", "fontSize": 8, "dx": 9, "dy": 4},
       "encoding": {"x": {"field": "x", "type": "quantitative", "axis": null}, "y": {"field": "y", "type": "quantitative", "axis": null}, "text": {"field": "sub"}}}
     ]},
    {"title": "NGC 300", "width": 295, "height": 240,
     "transform": [{"filter": "datum.g=='300'"}],
     "resolve": {"axis": {"x": "independent", "y": "independent"}},
     "layer": [
      {"transform": [{"filter": "datum.lo>0"}], "mark": "errorbar",
       "encoding": {
        "x": {"field": "x", "type": "quantitative", "scale": {"type": "log", "domain": [0.01, 3700], "nice": false}, "axis": {"orient": "top", "title": null}},
        "y": {"field": "lo", "type": "quantitative", "scale": {"type": "log", "domain": [0.09, 1], "nice": false}, "axis": {"orient": "right", "title": null}},
        "y2": {"field": "hi"}, "color": {"field": "k", "type": "nominal", "legend": null}}},
      {"transform": [{"filter": "datum.t=='p'"}], "mark": "point",
       "encoding": {"x": {"field": "x", "type": "quantitative", "axis": {"title": "λ[μm]"}}, "y": {"field": "y", "type": "quantitative", "axis": {"title": "h/r₂₅"}},
        "color": {"field": "k", "type": "nominal", "legend": null}, "shape": {"field": "k", "type": "nominal", "legend": null}}},
      {"transform": [{"filter": "datum.t=='l'"}], "mark": {"type": "rule", "strokeDash": [6, 4]},
       "encoding": {"y": {"field": "y", "type": "quantitative", "axis": null}, "color": {"field": "k", "type": "nominal", "legend": null}}},
      {"transform": [{"filter": "datum.t=='f'"}], "mark": {"type": "rule", "strokeDash": [2, 3], "opacity": 0.6},
       "encoding": {"y": {"field": "y", "type": "quantitative", "axis": null}, "color": {"field": "k", "type": "nominal", "legend": null}}},
      {"transform": [{"filter": "datum.t=='t'"}], "mark": {"type": "text", "fontSize": 12, "fontWeight": {"expr": "datum.s=='U'?'bold':'normal'"}},
       "encoding": {"x": {"field": "x", "type": "quantitative", "axis": null}, "y": {"field": "y", "type": "quantitative", "axis": null}, "text": {"field": "s"}}},
      {"transform": [{"filter": "datum.t=='t'"}], "mark": {"type": "text", "fontSize": 8, "dx": 9, "dy": 4},
       "encoding": {"x": {"field": "x", "type": "quantitative", "axis": null}, "y": {"field": "y", "type": "quantitative", "axis": null}, "text": {"field": "sub"}}}
     ]},
    {"title": "NGC 5194 - M 51", "width": 295, "height": 240,
     "transform": [{"filter": "datum.g=='5194'"}],
     "resolve": {"axis": {"x": "independent", "y": "independent"}},
     "layer": [
      {"transform": [{"filter": "datum.lo>0"}], "mark": "errorbar",
       "encoding": {
        "x": {"field": "x", "type": "quantitative", "scale": {"type": "log", "domain": [0.01, 3700], "nice": false}, "axis": {"orient": "top", "title": null}},
        "y": {"field": "lo", "type": "quantitative", "scale": {"type": "log", "domain": [0.09, 1], "nice": false}, "axis": {"orient": "right", "title": null}},
        "y2": {"field": "hi"}, "color": {"field": "k", "type": "nominal", "legend": null}}},
      {"transform": [{"filter": "datum.t=='p'"}], "mark": "point",
       "encoding": {"x": {"field": "x", "type": "quantitative", "axis": {"title": "λ[μm]"}}, "y": {"field": "y", "type": "quantitative", "axis": {"title": "h/r₂₅"}},
        "color": {"field": "k", "type": "nominal", "legend": null}, "shape": {"field": "k", "type": "nominal", "legend": null}}},
      {"transform": [{"filter": "datum.t=='l'"}], "mark": {"type": "rule", "strokeDash": [6, 4]},
       "encoding": {"y": {"field": "y", "type": "quantitative", "axis": null}, "color": {"field": "k", "type": "nominal", "legend": null}}},
      {"transform": [{"filter": "datum.t=='t'"}], "mark": {"type": "text", "fontSize": 12, "fontWeight": {"expr": "datum.s=='U'?'bold':'normal'"}},
       "encoding": {"x": {"field": "x", "type": "quantitative", "axis": null}, "y": {"field": "y", "type": "quantitative", "axis": null}, "text": {"field": "s"}}},
      {"transform": [{"filter": "datum.t=='t'"}], "mark": {"type": "text", "fontSize": 8, "dx": 9, "dy": 4},
       "encoding": {"x": {"field": "x", "type": "quantitative", "axis": null}, "y": {"field": "y", "type": "quantitative", "axis": null}, "text": {"field": "sub"}}}
     ]},
    {"title": "NGC 5236 - M 83", "width": 295, "height": 240,
     "transform": [{"filter": "datum.g=='5236'"}],
     "resolve": {"axis": {"x": "independent", "y": "independent"}},
     "layer": [
      {"transform": [{"filter": "datum.lo>0"}], "mark": "errorbar",
       "encoding": {
        "x": {"field": "x", "type": "quantitative", "scale": {"type": "log", "domain": [0.01, 3700], "nice": false}, "axis": {"orient": "top", "title": null}},
        "y": {"field": "lo", "type": "quantitative", "scale": {"type": "log", "domain": [0.09, 1], "nice": false}, "axis": {"orient": "right", "title": null}},
        "y2": {"field": "hi"}, "color": {"field": "k", "type": "nominal", "legend": null}}},
      {"transform": [{"filter": "datum.t=='p'"}], "mark": "point",
       "encoding": {"x": {"field": "x", "type": "quantitative", "axis": {"title": "λ[μm]"}}, "y": {"field": "y", "type": "quantitative", "axis": {"title": "h/r₂₅"}},
        "color": {"field": "k", "type": "nominal", "legend": null}, "shape": {"field": "k", "type": "nominal", "legend": null}}},
      {"transform": [{"filter": "datum.t=='l'"}], "mark": {"type": "rule", "strokeDash": [6, 4]},
       "encoding": {"y": {"field": "y", "type": "quantitative", "axis": null}, "color": {"field": "k", "type": "nominal", "legend": null}}},
      {"transform": [{"filter": "datum.t=='t'"}], "mark": {"type": "text", "fontSize": 12, "fontWeight": {"expr": "datum.s=='U'?'bold':'normal'"}},
       "encoding": {"x": {"field": "x", "type": "quantitative", "axis": null}, "y": {"field": "y", "type": "quantitative", "axis": null}, "text": {"field": "s"}}},
      {"transform": [{"filter": "datum.t=='t'"}], "mark": {"type": "text", "fontSize": 8, "dx": 9, "dy": 4},
       "encoding": {"x": {"field": "x", "type": "quantitative", "axis": null}, "y": {"field": "y", "type": "quantitative", "axis": null}, "text": {"field": "sub"}}}
     ]},
    {"title": "NGC 1365", "width": 295, "height": 240,
     "transform": [{"filter": "datum.g=='1365'"}],
     "resolve": {"axis": {"x": "independent", "y": "independent"}},
     "layer": [
      {"transform": [{"filter": "datum.lo>0"}], "mark": "errorbar",
       "encoding": {
        "x": {"field": "x", "type": "quantitative", "scale": {"type": "log", "domain": [0.01, 3700], "nice": false}, "axis": {"orient": "top", "title": null}},
        "y": {"field": "lo", "type": "quantitative", "scale": {"type": "log", "domain": [0.09, 1], "nice": false}, "axis": {"orient": "right", "title": null}},
        "y2": {"field": "hi"}, "color": {"field": "k", "type": "nominal", "legend": null}}},
      {"transform": [{"filter": "datum.t=='p'"}], "mark": "point",
       "encoding": {"x": {"field": "x", "type": "quantitative", "axis": {"title": "λ[μm]"}}, "y": {"field": "y", "type": "quantitative", "axis": {"title": "h/r₂₅"}},
        "color": {"field": "k", "type": "nominal", "legend": null}, "shape": {"field": "k", "type": "nominal", "legend": null}}},
      {"transform": [{"filter": "datum.t=='l'"}], "mark": {"type": "rule", "strokeDash": [6, 4]},
       "encoding": {"y": {"field": "y", "type": "quantitative", "axis": null}, "color": {"field": "k", "type": "nominal", "legend": null}}},
      {"transform": [{"filter": "datum.t=='t'"}], "mark": {"type": "text", "fontSize": 12, "fontWeight": {"expr": "datum.s=='U'?'bold':'normal'"}},
       "encoding": {"x": {"field": "x", "type": "quantitative", "axis": null}, "y": {"field": "y", "type": "quantitative", "axis": null}, "text": {"field": "s"}}},
      {"transform": [{"filter": "datum.t=='t'"}], "mark": {"type": "text", "fontSize": 8, "dx": 9, "dy": 4},
       "encoding": {"x": {"field": "x", "type": "quantitative", "axis": null}, "y": {"field": "y", "type": "quantitative", "axis": null}, "text": {"field": "sub"}}}
     ]},
    {"title": "NGC 5055 - M 63", "width": 295, "height": 240,
     "transform": [{"filter": "datum.g=='5055'"}],
     "resolve": {"axis": {"x": "independent", "y": "independent"}},
     "layer": [
      {"transform": [{"filter": "datum.lo>0"}], "mark": "errorbar",
       "encoding": {
        "x": {"field": "x", "type": "quantitative", "scale": {"type": "log", "domain": [0.01, 3700], "nice": false}, "axis": {"orient": "top", "title": null}},
        "y": {"field": "lo", "type": "quantitative", "scale": {"type": "log", "domain": [0.09, 1], "nice": false}, "axis": {"orient": "right", "title": null}},
        "y2": {"field": "hi"}, "color": {"field": "k", "type": "nominal", "legend": null}}},
      {"transform": [{"filter": "datum.t=='p'"}], "mark": "point",
       "encoding": {"x": {"field": "x", "type": "quantitative", "axis": {"title": "λ[μm]"}}, "y": {"field": "y", "type": "quantitative", "axis": {"title": "h/r₂₅"}},
        "color": {"field": "k", "type": "nominal", "legend": null}, "shape": {"field": "k", "type": "nominal", "legend": null}}},
      {"transform": [{"filter": "datum.t=='l'"}], "mark": {"type": "rule", "strokeDash": [6, 4]},
       "encoding": {"y": {"field": "y", "type": "quantitative", "axis": null}, "color": {"field": "k", "type": "nominal", "legend": null}}},
      {"transform": [{"filter": "datum.t=='t'"}], "mark": {"type": "text", "fontSize": 12, "fontWeight": {"expr": "datum.s=='U'?'bold':'normal'"}},
       "encoding": {"x": {"field": "x", "type": "quantitative", "axis": null}, "y": {"field": "y", "type": "quantitative", "axis": null}, "text": {"field": "s"}}},
      {"transform": [{"filter": "datum.t=='t'"}], "mark": {"type": "text", "fontSize": 8, "dx": 9, "dy": 4},
       "encoding": {"x": {"field": "x", "type": "quantitative", "axis": null}, "y": {"field": "y", "type": "quantitative", "axis": null}, "text": {"field": "sub"}}}
     ]},
    {"title": "NGC 6946", "width": 295, "height": 240,
     "transform": [{"filter": "datum.g=='6946'"}],
     "resolve": {"axis": {"x": "independent", "y": "independent"}},
     "layer": [
      {"transform": [{"filter": "datum.lo>0"}], "mark": "errorbar",
       "encoding": {
        "x": {"field": "x", "type": "quantitative", "scale": {"type": "log", "domain": [0.01, 3700], "nice": false}, "axis": {"orient": "top", "title": null}},
        "y": {"field": "lo", "type": "quantitative", "scale": {"type": "log", "domain": [0.09, 1.96], "nice": false}, "axis": {"orient": "right", "title": null}},
        "y2": {"field": "hi"}, "color": {"field": "k", "type": "nominal", "legend": null}}},
      {"transform": [{"filter": "datum.t=='p'"}], "mark": "point",
       "encoding": {"x": {"field": "x", "type": "quantitative", "axis": {"title": "λ[μm]"}}, "y": {"field": "y", "type": "quantitative", "axis": {"title": "h/r₂₅"}},
        "color": {"field": "k", "type": "nominal", "legend": null}, "shape": {"field": "k", "type": "nominal", "legend": null}}},
      {"transform": [{"filter": "datum.t=='l'"}], "mark": {"type": "rule", "strokeDash": [6, 4]},
       "encoding": {"y": {"field": "y", "type": "quantitative", "axis": null}, "color": {"field": "k", "type": "nominal", "legend": null}}},
      {"transform": [{"filter": "datum.t=='t'"}], "mark": {"type": "text", "fontSize": 12, "fontWeight": {"expr": "datum.s=='U'?'bold':'normal'"}},
       "encoding": {"x": {"field": "x", "type": "quantitative", "axis": null}, "y": {"field": "y", "type": "quantitative", "axis": null}, "text": {"field": "s"}}},
      {"transform": [{"filter": "datum.t=='t'"}], "mark": {"type": "text", "fontSize": 8, "dx": 9, "dy": 4},
       "encoding": {"x": {"field": "x", "type": "quantitative", "axis": null}, "y": {"field": "y", "type": "quantitative", "axis": null}, "text": {"field": "sub"}}}
     ]},
    {"title": "NGC 925", "width": 295, "height": 240, "view": {"stroke": "black"},
     "transform": [{"filter": "datum.g=='925'"}],
     "resolve": {"axis": {"x": "independent", "y": "independent"}},
     "layer": [
      {"transform": [{"filter": "datum.lo>0"}], "mark": "errorbar",
       "encoding": {
        "x": {"field": "x", "type": "quantitative", "scale": {"type": "log", "domain": [0.01, 3700], "nice": false}, "axis": {"orient": "top", "title": null}},
        "y": {"field": "lo", "type": "quantitative", "scale": {"type": "log", "domain": [0.089, 1.81], "nice": false}, "axis": {"orient": "right", "title": null}},
        "y2": {"field": "hi"}, "color": {"field": "k", "type": "nominal", "legend": null}}},
      {"transform": [{"filter": "datum.t=='p'"}], "mark": "point",
       "encoding": {"x": {"field": "x", "type": "quantitative", "axis": {"title": "λ[μm]"}}, "y": {"field": "y", "type": "quantitative", "axis": {"title": "h/r₂₅"}},
        "color": {"field": "k", "type": "nominal", "legend": null}, "shape": {"field": "k", "type": "nominal", "legend": null}}},
      {"transform": [{"filter": "datum.t=='l'"}], "mark": {"type": "rule", "strokeDash": [6, 4]},
       "encoding": {"y": {"field": "y", "type": "quantitative", "axis": null}, "color": {"field": "k", "type": "nominal", "legend": null}}},
      {"transform": [{"filter": "datum.t=='t'"}], "mark": {"type": "text", "fontSize": 12, "fontWeight": {"expr": "datum.s=='U'?'bold':'normal'"}},
       "encoding": {"x": {"field": "x", "type": "quantitative", "axis": null}, "y": {"field": "y", "type": "quantitative", "axis": null}, "text": {"field": "s"}}},
      {"transform": [{"filter": "datum.t=='t'"}], "mark": {"type": "text", "fontSize": 8, "dx": 9, "dy": 4},
       "encoding": {"x": {"field": "x", "type": "quantitative", "axis": null}, "y": {"field": "y", "type": "quantitative", "axis": null}, "text": {"field": "sub"}}}
     ]},
    {"title": "NGC 1097", "width": 295, "height": 240, "view": {"stroke": "black"},
     "transform": [{"filter": "datum.g=='1097'"}],
     "resolve": {"axis": {"x": "independent", "y": "independent"}},
     "layer": [
      {"transform": [{"filter": "datum.lo>0"}], "mark": "errorbar",
       "encoding": {
        "x": {"field": "x", "type": "quantitative", "scale": {"type": "log", "domain": [0.01, 3700], "nice": false}, "axis": {"orient": "top", "title": null}},
        "y": {"field": "lo", "type": "quantitative", "scale": {"type": "log", "domain": [0.09, 1], "nice": false}, "axis": {"orient": "right", "title": null}},
        "y2": {"field": "hi"}, "color": {"field": "k", "type": "nominal", "legend": null}}},
      {"transform": [{"filter": "datum.t=='p'"}], "mark": "point",
       "encoding": {"x": {"field": "x", "type": "quantitative", "axis": {"title": "λ[μm]"}}, "y": {"field": "y", "type": "quantitative", "axis": {"title": "h/r₂₅"}},
        "color": {"field": "k", "type": "nominal", "legend": null}, "shape": {"field": "k", "type": "nominal", "legend": null}}},
      {"transform": [{"filter": "datum.t=='l'"}], "mark": {"type": "rule", "strokeDash": [6, 4]},
       "encoding": {"y": {"field": "y", "type": "quantitative", "axis": null}, "color": {"field": "k", "type": "nominal", "legend": null}}},
      {"transform": [{"filter": "datum.t=='f'"}], "mark": {"type": "rule", "strokeDash": [2, 3], "opacity": 0.6},
       "encoding": {"y": {"field": "y", "type": "quantitative", "axis": null}, "color": {"field": "k", "type": "nominal", "legend": null}}},
      {"transform": [{"filter": "datum.t=='t'"}], "mark": {"type": "text", "fontSize": 12, "fontWeight": {"expr": "datum.s=='U'?'bold':'normal'"}},
       "encoding": {"x": {"field": "x", "type": "quantitative", "axis": null}, "y": {"field": "y", "type": "quantitative", "axis": null}, "text": {"field": "s"}}},
      {"transform": [{"filter": "datum.t=='t'"}], "mark": {"type": "text", "fontSize": 8, "dx": 9, "dy": 4},
       "encoding": {"x": {"field": "x", "type": "quantitative", "axis": null}, "y": {"field": "y", "type": "quantitative", "axis": null}, "text": {"field": "sub"}}}
     ]},
    {"title": "NGC 7793", "width": 295, "height": 240, "view": {"stroke": "black"},
     "transform": [{"filter": "datum.g=='7793'"}],
     "resolve": {"axis": {"x": "independent", "y": "independent"}},
     "layer": [
      {"transform": [{"filter": "datum.lo>0"}], "mark": "errorbar",
       "encoding": {
        "x": {"field": "x", "type": "quantitative", "scale": {"type": "log", "domain": [0.01, 3700], "nice": false}, "axis": {"orient": "top", "title": null}},
        "y": {"field": "lo", "type": "quantitative", "scale": {"type": "log", "domain": [0.09, 1], "nice": false}, "axis": {"orient": "right", "title": null}},
        "y2": {"field": "hi"}, "color": {"field": "k", "type": "nominal", "legend": null}}},
      {"transform": [{"filter": "datum.t=='p'"}], "mark": "point",
       "encoding": {"x": {"field": "x", "type": "quantitative", "axis": {"title": "λ[μm]"}}, "y": {"field": "y", "type": "quantitative", "axis": {"title": "h/r₂₅"}},
        "color": {"field": "k", "type": "nominal", "legend": null}, "shape": {"field": "k", "type": "nominal", "legend": null}}},
      {"transform": [{"filter": "datum.t=='l'"}], "mark": {"type": "rule", "strokeDash": [6, 4]},
       "encoding": {"y": {"field": "y", "type": "quantitative", "axis": null}, "color": {"field": "k", "type": "nominal", "legend": null}}},
      {"transform": [{"filter": "datum.t=='t'"}], "mark": {"type": "text", "fontSize": 12, "fontWeight": {"expr": "datum.s=='U'?'bold':'normal'"}},
       "encoding": {"x": {"field": "x", "type": "quantitative", "axis": null}, "y": {"field": "y", "type": "quantitative", "axis": null}, "text": {"field": "s"}}},
      {"transform": [{"filter": "datum.t=='t'"}], "mark": {"type": "text", "fontSize": 8, "dx": 9, "dy": 4},
       "encoding": {"x": {"field": "x", "type": "quantitative", "axis": null}, "y": {"field": "y", "type": "quantitative", "axis": null}, "text": {"field": "sub"}}}
     ]},
    {"title": "NGC 628 - M 74", "width": 295, "height": 240, "view": {"stroke": "black"},
     "transform": [{"filter": "datum.g=='628'"}],
     "resolve": {"axis": {"x": "independent", "y": "independent"}},
     "layer": [
      {"transform": [{"filter": "datum.lo>0"}], "mark": "errorbar",
       "encoding": {
        "x": {"field": "x", "type": "quantitative", "scale": {"type": "log", "domain": [0.01, 3700], "nice": false}, "axis": {"orient": "top", "title": null}},
        "y": {"field": "lo", "type": "quantitative", "scale": {"type": "log", "domain": [0.09, 1.51], "nice": false}, "axis": {"orient": "right", "title": null}},
        "y2": {"field": "hi"}, "color": {"field": "k", "type": "nominal", "legend": null}}},
      {"transform": [{"filter": "datum.t=='p'"}], "mark": "point",
       "encoding": {"x": {"field": "x", "type": "quantitative", "axis": {"title": "λ[μm]"}}, "y": {"field": "y", "type": "quantitative", "axis": {"title": "h/r₂₅"}},
        "color": {"field": "k", "type": "nominal", "legend": null}, "shape": {"field": "k", "type": "nominal", "legend": null}}},
      {"transform": [{"filter": "datum.t=='l'"}], "mark": {"type": "rule", "strokeDash": [6, 4]},
       "encoding": {"y": {"field": "y", "type": "quantitative", "axis": null}, "color": {"field": "k", "type": "nominal", "legend": null}}},
      {"transform": [{"filter": "datum.t=='t'"}], "mark": {"type": "text", "fontSize": 12, "fontWeight": {"expr": "datum.s=='U'?'bold':'normal'"}},
       "encoding": {"x": {"field": "x", "type": "quantitative", "axis": null}, "y": {"field": "y", "type": "quantitative", "axis": null}, "text": {"field": "s"}}},
      {"transform": [{"filter": "datum.t=='t'"}], "mark": {"type": "text", "fontSize": 8, "dx": 9, "dy": 4},
       "encoding": {"x": {"field": "x", "type": "quantitative", "axis": null}, "y": {"field": "y", "type": "quantitative", "axis": null}, "text": {"field": "sub"}}}
     ]},
    {"title": "NGC 3621", "width": 295, "height": 240, "view": {"stroke": "black"},
     "transform": [{"filter": "datum.g=='3621'"}],
     "resolve": {"axis": {"x": "independent", "y": "independent"}},
     "layer": [
      {"transform": [{"filter": "datum.lo>0"}], "mark": "errorbar",
       "encoding": {
        "x": {"field": "x", "type": "quantitative", "scale": {"type": "log", "domain": [0.01, 3700], "nice": false}, "axis": {"orient": "top", "title": null}},
        "y": {"field": "lo", "type": "quantitative", "scale": {"type": "log", "domain": [0.09, 1], "nice": false}, "axis": {"orient": "right", "title": null}},
        "y2": {"field": "hi"}, "color": {"field": "k", "type": "nominal", "legend": null}}},
      {"transform": [{"filter": "datum.t=='p'"}], "mark": "point",
       "encoding": {"x": {"field": "x", "type": "quantitative", "axis": {"title": "λ[μm]"}}, "y": {"field": "y", "type": "quantitative", "axis": {"title": "h/r₂₅"}},
        "color": {"field": "k", "type": "nominal", "legend": null}, "shape": {"field": "k", "type": "nominal", "legend": null}}},
      {"transform": [{"filter": "datum.t=='l'"}], "mark": {"type": "rule", "strokeDash": [6, 4]},
       "encoding": {"y": {"field": "y", "type": "quantitative", "axis": null}, "color": {"field": "k", "type": "nominal", "legend": null}}},
      {"transform": [{"filter": "datum.t=='t'"}], "mark": {"type": "text", "fontSize": 12, "fontWeight": {"expr": "datum.s=='U'?'bold':'normal'"}},
       "encoding": {"x": {"field": "x", "type": "quantitative", "axis": null}, "y": {"field": "y", "type": "quantitative", "axis": null}, "text": {"field": "s"}}},
      {"transform": [{"filter": "datum.t=='t'"}], "mark": {"type": "text", "fontSize": 8, "dx": 9, "dy": 4},
       "encoding": {"x": {"field": "x", "type": "quantitative", "axis": null}, "y": {"field": "y", "type": "quantitative", "axis": null}, "text": {"field": "sub"}}}
     ]},
    {"title": "NGC 4725", "width": 295, "height": 240, "view": {"stroke": "black"},
     "transform": [{"filter": "datum.g=='4725'"}],
     "resolve": {"axis": {"x": "independent", "y": "independent"}},
     "layer": [
      {"transform": [{"filter": "datum.lo>0"}], "mark": "errorbar",
       "encoding": {
        "x": {"field": "x", "type": "quantitative", "scale": {"type": "log", "domain": [0.01, 3700], "nice": false}, "axis": {"orient": "top", "title": null}},
        "y": {"field": "lo", "type": "quantitative", "scale": {"type": "log", "domain": [0.09, 1], "nice": false}, "axis": {"orient": "right", "title": null}},
        "y2": {"field": "hi"}, "color": {"field": "k", "type": "nominal", "legend": null}}},
      {"transform": [{"filter": "datum.t=='p'"}], "mark": "point",
       "encoding": {"x": {"field": "x", "type": "quantitative", "axis": {"title": "λ[μm]"}}, "y": {"field": "y", "type": "quantitative", "axis": {"title": "h/r₂₅"}},
        "color": {"field": "k", "type": "nominal", "legend": null}, "shape": {"field": "k", "type": "nominal", "legend": null}}},
      {"transform": [{"filter": "datum.t=='l'"}], "mark": {"type": "rule", "strokeDash": [6, 4]},
       "encoding": {"y": {"field": "y", "type": "quantitative", "axis": null}, "color": {"field": "k", "type": "nominal", "legend": null}}},
      {"transform": [{"filter": "datum.t=='f'"}], "mark": {"type": "rule", "strokeDash": [2, 3], "opacity": 0.6},
       "encoding": {"y": {"field": "y", "type": "quantitative", "axis": null}, "color": {"field": "k", "type": "nominal", "legend": null}}},
      {"transform": [{"filter": "datum.t=='t'"}], "mark": {"type": "text", "fontSize": 12, "fontWeight": {"expr": "datum.s=='U'?'bold':'normal'"}},
       "encoding": {"x": {"field": "x", "type": "quantitative", "axis": null}, "y": {"field": "y", "type": "quantitative", "axis": null}, "text": {"field": "s"}}},
      {"transform": [{"filter": "datum.t=='t'"}], "mark": {"type": "text", "fontSize": 8, "dx": 9, "dy": 4},
       "encoding": {"x": {"field": "x", "type": "quantitative", "axis": null}, "y": {"field": "y", "type": "quantitative", "axis": null}, "text": {"field": "sub"}}}
     ]}
  ],
  "config": {
    "view": {"stroke": null},
    "font": "Liberation Sans",
    "axis": {"grid": false, "domain": false, "tickColor": "black", "tickSize": -5, "labelPadding": 9,
             "labelFont": "Liberation Sans", "labelFontWeight": "bold", "labelFontSize": 12, "labelColor": "black",
             "labelOverlap": false, "titleColor": "black", "titleFont": "Liberation Sans", "titleFontSize": 13, "titleFontWeight": "normal"},
    "axisX": {"values": [0.01,0.02,0.03,0.04,0.05,0.06,0.07,0.08,0.09,0.1,0.2,0.3,0.4,0.5,0.6,0.7,0.8,0.9,1,2,3,4,5,6,7,8,9,10,20,30,40,50,60,70,80,90,100,200,300,400,500,600,700,800,900,1000,2000,3000],
              "labelExpr": "indexof([0.01,0.1,1,10,100,1000],datum.value)>=0?format(datum.value,'.2f'):''", "labelFlush": false},
    "axisY": {"values": [0.1,0.2,0.3,0.4,0.5,0.6,0.7,0.8,0.9,1],
              "labelExpr": "datum.value==0.1||datum.value==1?format(datum.value,'.1f'):''",
              "domain": true, "domainColor": "black", "titleFontWeight": "bold", "titleFontSize": 14},
    "axisTop": {"labels": false},
    "axisRight": {"labels": false},
    "title": {"anchor": "middle", "frame": "group", "dx": 72, "offset": -31, "fontSize": 13, "fontWeight": "bold", "color": "black", "baseline": "alphabetic", "font": "Liberation Sans"},
    "errorbar": {"ticks": {"size": 9, "thickness": 1.2}, "size": 9, "thickness": 1.2},
    "point": {"filled": true, "size": 30, "opacity": 1},
    "text": {"align": "left", "baseline": "middle", "color": "black", "font": "Liberation Sans"}
  }
}
